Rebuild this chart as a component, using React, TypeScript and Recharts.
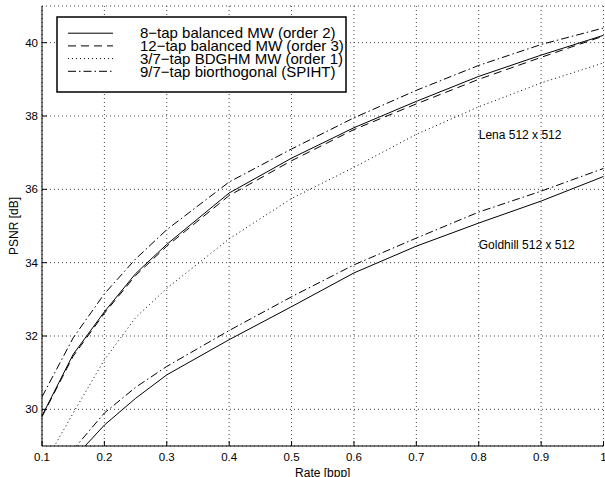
import React from 'react';
import { LineChart, Line, XAxis, YAxis, CartesianGrid, Legend, ReferenceDot } from 'recharts';

// ---- data ----
const RATES = [0.1, 0.15, 0.2, 0.25, 0.3, 0.4, 0.5, 0.6, 0.7, 0.8, 0.9, 1.0];
const LENA_8TAP = [29.82, 31.5, 32.66, 33.7, 34.5, 35.9, 36.85, 37.68, 38.4, 39.08, 39.66, 40.2];
const LENA_12TAP = [29.8, 31.45, 32.62, 33.65, 34.45, 35.83, 36.78, 37.63, 38.33, 39.0, 39.6, 40.18];
const LENA_BDGHM = [28.4, 29.9, 31.35, 32.5, 33.3, 34.65, 35.75, 36.6, 37.5, 38.25, 38.9, 39.45];
const LENA_SPIHT = [30.34, 31.95, 33.15, 34.1, 34.9, 36.2, 37.1, 37.95, 38.7, 39.38, 39.95, 40.4];
const GOLD_8TAP = [27.6, 28.65, 29.57, 30.3, 30.94, 31.9, 32.8, 33.72, 34.45, 35.08, 35.68, 36.35];
const GOLD_SPIHT = [27.9, 28.9, 29.9, 30.6, 31.17, 32.15, 33.07, 33.94, 34.67, 35.38, 35.95, 36.57];

const X_TICKS = [0.1, 0.2, 0.3, 0.4, 0.5, 0.6, 0.7, 0.8, 0.9, 1];
const Y_TICKS = [30, 32, 34, 36, 38, 40];
const X_DOMAIN = [0.1, 1];
const Y_DOMAIN = [29, 41];

const LEGEND_NAMES = [
  '8\u2212tap balanced MW (order 2)',
  '12\u2212tap balanced MW (order 3)',
  '3/7\u2212tap BDGHM MW (order 1)',
  '9/7\u2212tap biorthogonal (SPIHT)',
];
const IMAGE_LABELS = [
  { text: 'Lena 512 x 512', x: 0.8, y: 37.48 },
  { text: 'Goldhill 512 x 512', x: 0.8, y: 34.48 },
];

// ---- styles ----
const FONT = '"Liberation Sans", Arial, Helvetica, sans-serif';
const DASH_SOLID = undefined;
const DASH_DASHED = '8 5';
const DASH_DOTTED = '1 3';
const DASH_DASHDOT = '8 3 1.5 3';
const LEGEND_DASHES = [DASH_SOLID, DASH_DASHED, DASH_DOTTED, DASH_DASHDOT];
const TICK_LEN = 5;

const data = RATES.map((r, i) => ({
  rate: r,
  lena8: LENA_8TAP[i],
  lena12: LENA_12TAP[i],
  lenaB: LENA_BDGHM[i],
  lenaS: LENA_SPIHT[i],
  gold8: GOLD_8TAP[i],
  goldS: GOLD_SPIHT[i],
}));

const BottomTick = (props: any) => {
  const { x, y, payload } = props;
  return (
    <g>
      <line x1={x} x2={x} y1={y} y2={y - TICK_LEN} stroke="#000" strokeWidth={1} />
      <text x={x} y={y + 15} textAnchor="middle" fontSize={11.5} fontFamily={FONT} fill="#000">
        {String(payload.value)}
      </text>
    </g>
  );
};
const TopTick = (props: any) => {
  const { x, y } = props;
  return <line x1={x} x2={x} y1={y} y2={y + TICK_LEN} stroke="#000" strokeWidth={1} />;
};
const LeftTick = (props: any) => {
  const { x, y, payload } = props;
  return (
    <g>
      <line x1={x} x2={x + TICK_LEN} y1={y} y2={y} stroke="#000" strokeWidth={1} />
      <text x={x - 4} y={y + 4} textAnchor="end" fontSize={11.5} fontFamily={FONT} fill="#000">
        {String(payload.value)}
      </text>
    </g>
  );
};
const RightTick = (props: any) => {
  const { x, y } = props;
  return <line x1={x} x2={x - TICK_LEN} y1={y} y2={y} stroke="#000" strokeWidth={1} />;
};

const LegendBox = () => {
  const rowY = [17.2, 29.9, 42.6, 55.3];
  return (
    <svg width={291} height={77} style={{ display: 'block' }}>
      <rect x={1} y={1} width={289} height={75} fill="#fff" stroke="#000" strokeWidth={1.5} />
      {LEGEND_NAMES.map((name, i) => (
        <g key={name}>
          <line x1={12} x2={57} y1={rowY[i]} y2={rowY[i]} stroke="#000" strokeWidth={1} strokeDasharray={LEGEND_DASHES[i]} />
          <text x={84} y={rowY[i] + 5.2} fontSize={15} fontFamily={FONT} fill="#000">
            {name}
          </text>
        </g>
      ))}
    </svg>
  );
};

const XLabel = (props: any) => {
  const vb = props.viewBox;
  return (
    <text x={vb.x + vb.width / 2} y={vb.y + 30.5} textAnchor="middle" fontSize={12} fontFamily={FONT} fill="#000">
      Rate [bpp]
    </text>
  );
};
const YLabel = (props: any) => {
  const vb = props.viewBox;
  const cx = 18;
  const cy = vb.y + vb.height / 2;
  return (
    <text x={cx} y={cy} transform={`rotate(-90 ${cx} ${cy})`} textAnchor="middle" fontSize={12} fontFamily={FONT} fill="#000">
      PSNR [dB]
    </text>
  );
};

const lineProps = {
  xAxisId: 'b',
  yAxisId: 'l',
  type: 'linear' as const,
  stroke: '#000',
  strokeWidth: 1,
  dot: false,
  activeDot: false,
  isAnimationActive: false,
};

export default function App() {
  return (
    <div style={{ position: 'absolute', left: 0, top: 0 }}>
      <LineChart width={605} height={477} data={data} margin={{ top: 6, right: 1.5, bottom: 11, left: 0 }}>
        <CartesianGrid xAxisId="b" yAxisId="l" stroke="#444" strokeDasharray="1 3" strokeWidth={1} />
        <XAxis
          xAxisId="b"
          dataKey="rate"
          type="number"
          domain={X_DOMAIN}
          ticks={X_TICKS}
          interval={0}
          height={20}
          tickSize={0}
          tickMargin={0}
          tickLine={false}
          tick={BottomTick}
          axisLine={{ stroke: '#000' }}
          label={<XLabel />}
        />
        <XAxis
          xAxisId="t"
          orientation="top"
          dataKey="rate"
          type="number"
          domain={X_DOMAIN}
          ticks={X_TICKS}
          interval={0}
          height={0}
          tickSize={0}
          tickMargin={0}
          tickLine={false}
          tick={TopTick}
          axisLine={{ stroke: '#000' }}
        />
        <YAxis
          yAxisId="l"
          type="number"
          domain={Y_DOMAIN}
          ticks={Y_TICKS}
          interval={0}
          allowDataOverflow
          width={42}
          tickSize={0}
          tickMargin={0}
          tickLine={false}
          tick={LeftTick}
          axisLine={{ stroke: '#000' }}
          label={<YLabel />}
        />
        <YAxis
          yAxisId="r"
          orientation="right"
          type="number"
          domain={Y_DOMAIN}
          ticks={Y_TICKS}
          interval={0}
          allowDataOverflow
          width={0}
          tickSize={0}
          tickMargin={0}
          tickLine={false}
          tick={RightTick}
          axisLine={{ stroke: '#000' }}
        />
        <Line {...lineProps} dataKey="lena8" name={LEGEND_NAMES[0]} />
        <Line {...lineProps} dataKey="lena12" name={LEGEND_NAMES[1]} strokeDasharray={DASH_DASHED} />
        <Line {...lineProps} dataKey="lenaB" name={LEGEND_NAMES[2]} strokeDasharray={DASH_DOTTED} />
        <Line {...lineProps} dataKey="lenaS" name={LEGEND_NAMES[3]} strokeDasharray={DASH_DASHDOT} />
        <Line {...lineProps} dataKey="gold8" name="gold8" legendType="none" />
        <Line {...lineProps} dataKey="goldS" name="goldS" legendType="none" strokeDasharray={DASH_DASHDOT} />
        {IMAGE_LABELS.map((l) => (
          <ReferenceDot
            key={l.text}
            xAxisId="b"
            yAxisId="l"
            x={l.x}
            y={l.y}
            r={0}
            fill="none"
            stroke="none"
            ifOverflow="visible"
            label={{ value: l.text, position: 'right', offset: 0, fontSize: 12, fontFamily: FONT, fill: '#000' }}
          />
        ))}
        <Legend
          verticalAlign="middle"
          align="center"
          layout="horizontal"
          content={<LegendBox />}
          wrapperStyle={{ left: 56, top: 16, width: 291, height: 77 }}
        />
      </LineChart>
    </div>
  );
}
